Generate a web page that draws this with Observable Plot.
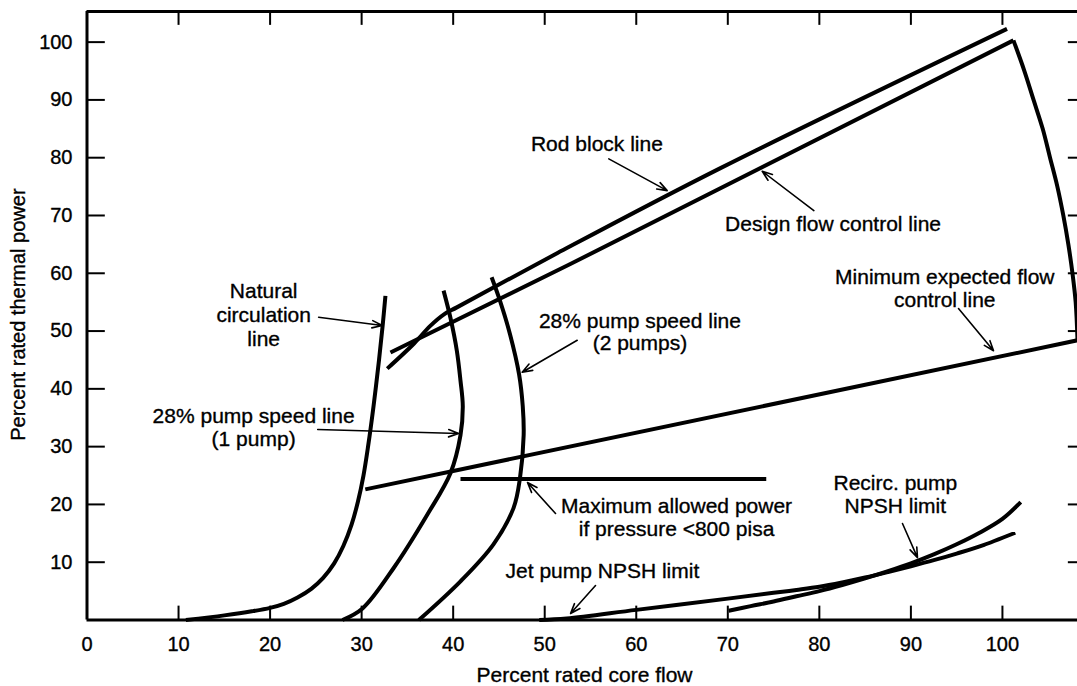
<!DOCTYPE html>
<html>
<head>
<meta charset="utf-8">
<script src="https://cdn.jsdelivr.net/npm/d3@7"></script>
<script src="https://cdn.jsdelivr.net/npm/@observablehq/plot@0.6"></script>
<style>
  html, body { margin: 0; padding: 0; background: #fff; }
  #chart svg { display: block; }
</style>
</head>
<body>
<div id="chart"></div>
<script>
// ---------- axes ----------
const xLabelValues = [0, 10, 20, 30, 40, 50, 60, 70, 80, 90, 100];
const xTickValues = [10, 20, 30, 40, 50, 60, 70, 80, 90, 100];
const yTickValues = [10, 20, 30, 40, 50, 60, 70, 80, 90, 100];
const xMax = 108.2;
const yMax = 105.3;
const xTitle = "Percent rated core flow";
const yTitle = "Percent rated thermal power";

// ---------- curves: [core flow %, thermal power %] ----------
const naturalCirculation = [[10.8,0],[15,0.8],[18,1.5],[20,2.1],[21.5,2.8],[23,3.9],[24.5,5.4],[25.8,7.3],[27,9.8],[28,12.8],[28.9,16.5],[29.6,20.5],[30.2,25],[30.7,30],[31.3,37],[31.9,45],[32.3,51],[32.6,56.1]];
const pump1Speed = [[27.9,0],[30.1,2],[33.5,9],[37.2,18.3],[39.7,25.4],[40.8,32],[41.05,37],[40.8,41.4],[40.4,46.6],[39.7,52.3],[38.95,57]];
const pump2Speed = [[36.25,0],[40.8,6.7],[44.4,13.1],[46.6,19.4],[47.3,24.6],[47.7,32],[47.6,37],[47.2,42.5],[46.2,49.5],[45.1,55.3],[44.2,59.3]];
const rodBlock = [[32.8,43.5],[35.7,47.8],[37.5,50.9],[39,52.9],[40.4,54.1],[51.4,63.5],[69.2,78.2],[100.5,102.3]];
const designFlow = [[33.15,46.3],[52.8,61.6],[101.2,100.3]];
const maxFlowBoundary = [[101.2,100.3],[102.4,95],[103.4,90],[104.4,85],[105.2,80],[106,75],[106.65,70],[107.2,65],[107.65,60],[108,55],[108.2,48.4]];
const minExpectedFlow = [[30.4,22.6],[108.2,48.4]];
const maxPowerLowPressure = [[40.8,24.4],[74.2,24.4]];
const jetPumpNPSH = [[49.4,0],[52.4,0.25],[60,1.75],[70,3.7],[75,4.7],[77.5,5.2],[80,5.75],[82.5,6.5],[85,7.35],[87.5,8.3],[90,9.3],[92.5,10.35],[95,11.5],[98,13],[101.4,15.1]];
const recircPumpNPSH = [[70.1,1.6],[72.5,2.4],[75,3.2],[77.5,4.1],[80,5.0],[82.5,6.05],[85,7.2],[87.5,8.45],[90,9.8],[92.5,11.35],[95,13.1],[97.5,15.1],[100,17.5],[102,20.4]];

// ---------- annotations ----------
const labelTexts = [
  "Rod block line",
  "Design flow control line",
  "Minimum expected flow\ncontrol line",
  "Natural\ncirculation\nline",
  "28% pump speed line\n(1 pump)",
  "28% pump speed line\n(2 pumps)",
  "Maximum allowed power\nif pressure <800 pisa",
  "Jet pump NPSH limit",
  "Recirc. pump\nNPSH limit"
];
const labelX = [55.7, 81.5, 93.7, 19.3, 18.2, 60.4, 64.4, 56.3, 88.3];
const labelY = [82.4, 68.6, 57.4, 52.85, 33.4, 49.9, 17.8, 8.56, 21.8];
const labelLineHeight = [1.1, 1.1, 1.1, 1.15, 1.1, 1.05, 1.1, 1.1, 1.1];

const arrowFrom = [[57.0,79.8],[79.4,70.85],[95.2,53.9],[25.3,52.4],[25.2,32.96],[53.55,48.4],[51.18,18.43],[55.55,5.97],[89.08,16.7]];
const arrowTo   = [[63.38,74.3],[73.76,77.65],[99.03,46.6],[32.25,50.95],[40.6,32.27],[47.54,42.87],[48.12,23.79],[52.82,1.12],[90.72,10.8]];

// ---------- build tables ----------
const toRows = (name, pts) => pts.map(([x, y]) => ({series: name, x, y}));
const smoothRows = [
  ...toRows("natural", naturalCirculation),
  ...toRows("pump1", pump1Speed),
  ...toRows("pump2", pump2Speed),
  ...toRows("rod", rodBlock),
  ...toRows("boundary", maxFlowBoundary),
  ...toRows("jet", jetPumpNPSH),
  ...toRows("recirc", recircPumpNPSH)
];
const straightRows = [
  ...toRows("design", designFlow),
  ...toRows("minExpected", minExpectedFlow),
  ...toRows("maxPower", maxPowerLowPressure)
];
const labels = labelTexts.map((t, i) => ({text: t, x: labelX[i], y: labelY[i], lh: labelLineHeight[i]}));
const arrows = arrowFrom.map((f, i) => ({x1: f[0], y1: f[1], x2: arrowTo[i][0], y2: arrowTo[i][1]}));

const font = "'Liberation Sans', Arial, Helvetica, sans-serif";
const textInk = {fill: "black", stroke: "black", strokeWidth: 0.35, strokeLinejoin: "round"};

const labelMarks = d3.groups(labels, d => d.lh).map(([lh, rows]) =>
  Plot.text(rows, {x: "x", y: "y", text: "text", fontSize: 21, lineHeight: lh, textAnchor: "middle", ...textInk})
);

const chart = Plot.plot({
  width: 1077,
  height: 686,
  marginLeft: 86.5,
  marginRight: 0,
  marginTop: 11,
  marginBottom: 66.5,
  style: {fontFamily: font, background: "white", overflow: "visible"},
  x: {domain: [0, xMax], axis: null},
  y: {domain: [0, yMax], axis: null},
  marks: [
    // ticks (inward, all four sides)
    Plot.ruleX(xTickValues, {x: d => d, y1: 0, y2: 2.4, strokeWidth: 2, stroke: "black"}),
    Plot.ruleX(xTickValues, {x: d => d, y1: yMax - 2.4, y2: yMax, strokeWidth: 2, stroke: "black"}),
    Plot.ruleY(yTickValues, {y: d => d, x1: 0, x2: 2.0, strokeWidth: 2, stroke: "black"}),
    Plot.ruleY(yTickValues, {y: d => d, x1: xMax - 1.0, x2: xMax, strokeWidth: 2, stroke: "black"}),
    // frame
    Plot.ruleX([0], {strokeWidth: 3, stroke: "black"}),
    Plot.ruleY([0, yMax], {strokeWidth: 3, stroke: "black"}),
    // tick labels
    Plot.text(xLabelValues, {x: d => d, y: 0, dy: 25, text: d => String(d), fontSize: 20, textAnchor: "middle", ...textInk}),
    Plot.text(yTickValues, {x: 0, y: d => d, dx: -14.5, text: d => String(d), fontSize: 20, textAnchor: "end", ...textInk}),
    // axis titles
    Plot.text([xTitle], {x: 54.35, y: 0, dy: 55.5, text: d => d, fontSize: 21, textAnchor: "middle", ...textInk}),
    Plot.text([yTitle], {x: 0, y: 52.85, dx: -68.5, text: d => d, fontSize: 20, rotate: -90, textAnchor: "middle", ...textInk}),
    // curves
    Plot.line(smoothRows, {x: "x", y: "y", z: "series", curve: "catmull-rom", stroke: "black", strokeWidth: 4, strokeLinecap: "butt"}),
    Plot.line(straightRows, {x: "x", y: "y", z: "series", stroke: "black", strokeWidth: 4, strokeLinecap: "butt"}),
    // arrows
    Plot.arrow(arrows, {x1: "x1", y1: "y1", x2: "x2", y2: "y2", stroke: "black", strokeWidth: 1.6, headLength: 10, headAngle: 40}),
    // labels
    ...labelMarks
  ]
});
document.getElementById("chart").appendChild(chart);
</script>
</body>
</html>
